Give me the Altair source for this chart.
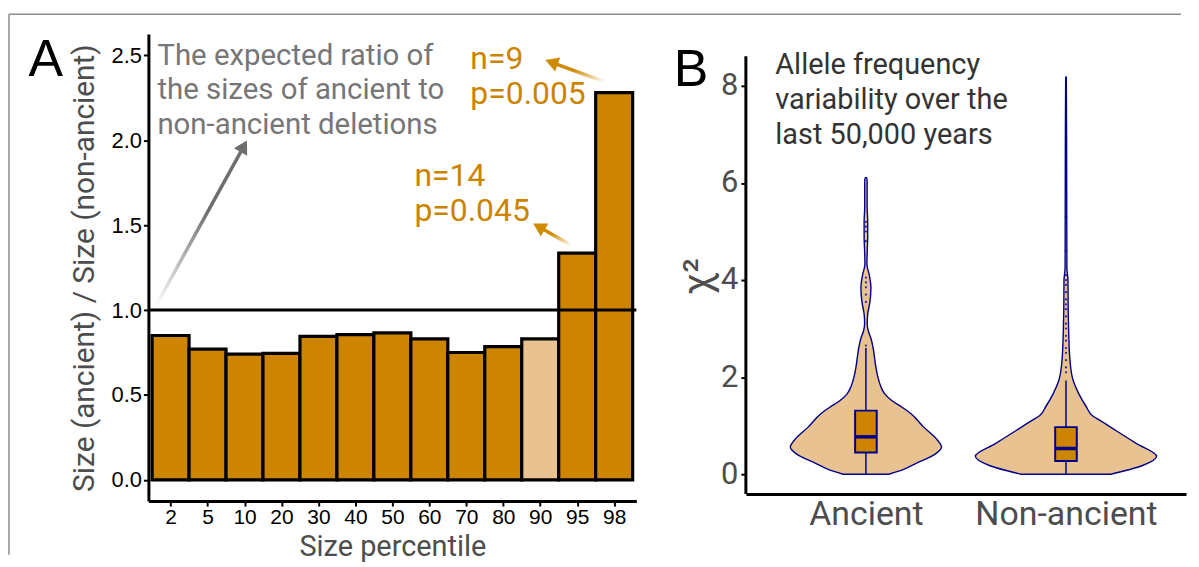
import altair as alt
import pandas as pd

# ---------------- Panel A data ----------------
percentiles = ["2", "5", "10", "20", "30", "40", "50", "60", "70", "80", "90", "95", "98"]
ratios = [0.85, 0.77, 0.74, 0.745, 0.845, 0.855, 0.865, 0.83, 0.75, 0.785, 0.83, 1.335, 2.28]
bar_shade = ["dark"] * 10 + ["light"] + ["dark"] * 2
expected_ratio = 1.0
yticks_a = [0.0, 0.5, 1.0, 1.5, 2.0, 2.5]

# ---------------- Panel B data ----------------
groups = ["Ancient", "Non-ancient"]
anc_y = [0.0, 0.1, 0.22, 0.42, 0.56, 0.7, 0.97, 1.25, 1.37, 1.52, 1.65, 1.8, 2.0, 2.2, 2.6,
         2.8, 2.95, 3.1, 3.3, 3.55, 3.84, 4.1, 4.33, 4.6, 4.9, 5.2, 5.5, 5.8, 6.05, 6.11]
anc_w = [0.114, 0.189, 0.249, 0.348, 0.378, 0.358, 0.289, 0.224, 0.184, 0.129, 0.095, 0.075,
         0.060, 0.050, 0.036, 0.025, 0.012, 0.0065, 0.009, 0.020, 0.025, 0.017, 0.005, 0.0065,
         0.009, 0.009, 0.006, 0.006, 0.006, 0.0025]
non_y = [0.0, 0.18, 0.37, 0.63, 0.9, 1.1, 1.2, 1.4, 1.65, 1.93, 2.34, 3.0, 3.4, 4.0, 4.25,
         5.0, 6.0, 7.0, 8.18]
non_w = [0.224, 0.383, 0.453, 0.353, 0.249, 0.174, 0.134, 0.100, 0.065, 0.036, 0.020, 0.013,
         0.011, 0.010, 0.0045, 0.004, 0.0035, 0.003, 0.0015]
box_q1 = [0.445, 0.27]
box_med = [0.77, 0.53]
box_q3 = [1.31, 0.97]
whisk_lo = [0.0, 0.0]
whisk_hi = [2.6, 1.93]
anc_out = [2.65, 3.55, 3.7, 3.85, 3.95, 4.05, 4.8, 5.0, 5.1, 5.2]
non_out = [2.1, 2.2, 2.35, 2.5, 2.6, 2.75, 2.85, 3.0, 3.1, 3.25, 3.4, 3.5, 3.6, 3.75, 3.9,
           4.0, 4.1, 4.6, 5.3, 5.9]
yticks_b = [0, 2, 4, 6, 8]

# ---------------- styling ----------------
DARK = "#CD8500"
LIGHT = "#E8C391"
NAVY = "#00008B"
ORANGE_TXT = "#CC8400"
GRAY_TXT = "#767676"
FONT = "Roboto"

WA, HA = 490, 469
WB, HB = 442, 462
xdomA = [-0.6, 12.6]
ydomA = [-0.125, 2.625]
xdomB = [0.4, 2.6]
ydomB = [-0.41, 9.067]
pxA = WA / (xdomA[1] - xdomA[0])
pyA = HA / (ydomA[1] - ydomA[0])

xsA = alt.Scale(domain=xdomA, nice=False, zero=False)
ysA = alt.Scale(domain=ydomA, nice=False, zero=False)
xsB = alt.Scale(domain=xdomB, nice=False, zero=False)
ysB = alt.Scale(domain=ydomB, nice=False, zero=False)

# ---------------- Panel A ----------------
bars = pd.DataFrame({
    "idx": list(range(len(percentiles))),
    "pct": percentiles,
    "ratio": ratios,
    "shade": bar_shade,
})
bars["x0"] = bars["idx"] - 0.5
bars["x1"] = bars["idx"] + 0.5
bars["y0"] = 0.0

label_expr_a = "[" + ",".join("'" + p + "'" for p in percentiles) + "][datum.value]"

axA_x = alt.Axis(
    values=list(range(len(percentiles))), labelExpr=label_expr_a,
    title="Size percentile", titleFont=FONT, titleFontSize=29, titleColor="#4d4d4d",
    titleFontWeight="normal", titleY=46, titleBaseline="middle",
    labelFont="Liberation Sans", labelFontSize=21, labelColor="black", labelPadding=1,
    labelOverlap=False, labelLimit=0,
    domainColor="black", domainWidth=3, tickColor="black", tickWidth=2, tickSize=5,
    grid=False)
axA_y = alt.Axis(
    values=yticks_a, format=".1f",
    title="Size (ancient) / Size (non-ancient)", titleFont=FONT, titleFontSize=30,
    titleColor="#4d4d4d", titleFontWeight="normal", titleX=-64, titleY=HA / 2,
    titleAngle=-90, titleBaseline="middle", titleAlign="center",
    labelFont="Liberation Sans", labelFontSize=22, labelColor="black", labelPadding=2,
    labelOverlap=False,
    domainColor="black", domainWidth=3, tickColor="black", tickWidth=2, tickSize=5,
    grid=False)

bar_layer = alt.Chart(bars).mark_rect(stroke="black", strokeWidth=3.2).encode(
    x=alt.X("x0:Q", scale=xsA, axis=axA_x),
    x2="x1:Q",
    y=alt.Y("y0:Q", scale=ysA, axis=axA_y),
    y2="ratio:Q",
    fill=alt.Fill("shade:N", scale=alt.Scale(domain=["dark", "light"], range=[DARK, LIGHT]),
                  legend=None),
)

hline = alt.Chart(pd.DataFrame({"y": [expected_ratio]})).mark_rule(
    color="black", strokeWidth=3).encode(
    x=alt.datum(xdomA[0], scale=xsA, axis=axA_x), x2=alt.datum(xdomA[1]),
    y=alt.Y("y:Q", scale=ysA, axis=axA_y))

# arrows (annotation): tail -> tip in data coordinates of panel A
arrows = pd.DataFrame({
    "name": ["gray", "o1", "o2"],
    "xt": [-0.41, 11.745, 10.83], "yt": [1.02, 2.344, 1.382],
    "xh": [2.07, 10.128, 9.80], "yh": [2.0, 2.473, 1.511],
    "ang": [29, 290, 300],
    "col": ["#6e6e6e", "#D08A00", "#D08A00"],
})


def arrow(row, grad_dir):
    dxp = (row.xt - row.xh) * pxA
    dyp = (row.yt - row.yh) * pyA
    L = (dxp ** 2 + dyp ** 2) ** 0.5
    f = 7.0 / L
    hx = row.xh + (row.xt - row.xh) * f
    hy = row.yh + (row.yt - row.yh) * f
    d = pd.DataFrame({"xt": [row.xt], "yt": [row.yt], "xh": [hx], "yh": [hy]})
    x1, y1, x2, y2 = grad_dir
    grad = alt.LinearGradient(
        gradient="linear",
        stops=[alt.GradientStop(color="#ffffff", offset=0),
               alt.GradientStop(color=row.col, offset=0.6),
               alt.GradientStop(color=row.col, offset=1)],
        x1=x1, y1=y1, x2=x2, y2=y2)
    line = alt.Chart(d).mark_rule(stroke=grad, strokeWidth=3.5).encode(
        x=alt.X("xt:Q", scale=xsA, axis=axA_x), y=alt.Y("yt:Q", scale=ysA, axis=axA_y),
        x2="xh:Q", y2="yh:Q")
    head = alt.Chart(d).mark_point(shape="triangle-up", filled=True, size=230,
                                   angle=int(row.ang), color=row.col, opacity=1).encode(
        x=alt.X("xh:Q", scale=xsA, axis=axA_x), y=alt.Y("yh:Q", scale=ysA, axis=axA_y))
    return line + head


arr_gray = arrow(arrows.iloc[0], (0, 1, 1, 0))
arr_o1 = arrow(arrows.iloc[1], (1, 1, 0, 0))
arr_o2 = arrow(arrows.iloc[2], (1, 1, 0, 0))

txtA = pd.DataFrame({"x": [-0.357, 8.11, 6.597], "y": [2.58, 2.567, 1.874]})
txt_gray = alt.Chart(txtA.iloc[[0]]).mark_text(
    text=["The expected ratio of", "the sizes of ancient to", "non-ancient deletions"],
    align="left", baseline="top", font=FONT, fontSize=29.5, lineHeight=35, color=GRAY_TXT).encode(
    x=alt.X("x:Q", scale=xsA, axis=axA_x), y=alt.Y("y:Q", scale=ysA, axis=axA_y))
txt_n9 = alt.Chart(txtA.iloc[[1]]).mark_text(
    text=["n=9", "p=0.005"], align="left", baseline="top", font=FONT, fontSize=32,
    lineHeight=35, color=ORANGE_TXT).encode(
    x=alt.X("x:Q", scale=xsA, axis=axA_x), y=alt.Y("y:Q", scale=ysA, axis=axA_y))
txt_n14 = alt.Chart(txtA.iloc[[2]]).mark_text(
    text=["n=14", "p=0.045"], align="left", baseline="top", font=FONT, fontSize=32,
    lineHeight=35, color=ORANGE_TXT).encode(
    x=alt.X("x:Q", scale=xsA, axis=axA_x), y=alt.Y("y:Q", scale=ysA, axis=axA_y))

one = pd.DataFrame({"a": [0]})
letterA = alt.Chart(one).mark_text(text="A", font="Liberation Sans", fontSize=52,
                                   align="center", baseline="alphabetic", color="black").encode(
    x=alt.value(-103), y=alt.value(42))
frame_top = alt.Chart(one).mark_rule(color="#8c8c8c", strokeWidth=1.5).encode(
    x=alt.value(-140), x2=alt.value(1037), y=alt.value(-20), y2=alt.value(-20))
frame_left = alt.Chart(one).mark_rule(color="#8c8c8c", strokeWidth=1.5).encode(
    x=alt.value(-140), x2=alt.value(-140), y=alt.value(-20), y2=alt.value(523))

panelA = alt.layer(
    bar_layer, hline, arr_gray, arr_o1, arr_o2, txt_gray, txt_n9, txt_n14,
    letterA, frame_top, frame_left
).properties(width=WA, height=HA)

# ---------------- Panel B ----------------
rows = []
for gi, (ys, ws) in enumerate([(anc_y, anc_w), (non_y, non_w)]):
    c = gi + 1
    for y, w in zip(ys, ws):
        rows.append({"group": groups[gi], "y": y, "left": c - w, "right": c + w})
viol = pd.DataFrame(rows)

box = pd.DataFrame({
    "group": groups, "c": [1, 2], "q1": box_q1, "med": box_med, "q3": box_q3,
    "lo": whisk_lo, "hi": whisk_hi,
})
box["bl"] = box["c"] - 0.054
box["br"] = box["c"] + 0.054

outl = pd.DataFrame({
    "c": [1] * len(anc_out) + [2] * len(non_out),
    "v": anc_out + non_out,
})

label_expr_b = "[''," + ",".join("'" + g + "'" for g in groups) + "][datum.value]"

axB_y = alt.Axis(
    values=yticks_b, title="χ²", titleFont=FONT, titleFontSize=40, titleColor="#4d4d4d",
    titleFontWeight="normal", titleX=-48, titleY=243, titleAngle=-90,
    titleBaseline="middle", titleAlign="center",
    labelFont=FONT, labelFontSize=31, labelColor="#4d4d4d", labelPadding=3,
    domain=False, tickColor="black", tickWidth=2, tickSize=5, grid=False)
axB_x = alt.Axis(
    values=[1, 2], labelExpr=label_expr_b, title="",
    labelFont=FONT, labelFontSize=34, labelColor="#4d4d4d", labelPadding=4,
    labelLimit=0, labelOverlap=False,
    domainColor="black", domainWidth=3, ticks=False, grid=False)

violin = alt.Chart(viol).mark_area(
    orient="horizontal", interpolate="monotone", fill=LIGHT, stroke=NAVY, strokeWidth=1.4,
    opacity=1).encode(
    y=alt.Y("y:Q", scale=ysB, axis=axB_y),
    x=alt.X("left:Q", scale=xsB, axis=axB_x),
    x2="right:Q",
    detail="group:N",
)

whisk = alt.Chart(box).mark_rule(color=NAVY, strokeWidth=1.5).encode(
    x=alt.X("c:Q", scale=xsB, axis=axB_x), y=alt.Y("lo:Q", scale=ysB, axis=axB_y), y2="hi:Q")
boxes = alt.Chart(box).mark_rect(fill=DARK, stroke=NAVY, strokeWidth=2).encode(
    x=alt.X("bl:Q", scale=xsB, axis=axB_x), x2="br:Q",
    y=alt.Y("q1:Q", scale=ysB, axis=axB_y), y2="q3:Q")
meds = alt.Chart(box).mark_rule(color=NAVY, strokeWidth=3.5).encode(
    x=alt.X("bl:Q", scale=xsB, axis=axB_x), x2="br:Q",
    y=alt.Y("med:Q", scale=ysB, axis=axB_y))
outs = alt.Chart(outl).mark_circle(size=5, color=NAVY, opacity=0.8).encode(
    x=alt.X("c:Q", scale=xsB, axis=axB_x), y=alt.Y("v:Q", scale=ysB, axis=axB_y))

ydomain_line = alt.Chart(one).mark_rule(color="black", strokeWidth=3).encode(
    x=alt.datum(xdomB[0], scale=xsB, axis=axB_x), y=alt.datum(-0.41, scale=ysB, axis=axB_y),
    y2=alt.datum(8.61))

txtB = pd.DataFrame({"x": [0.547], "y": [8.72]})
txt_b = alt.Chart(txtB).mark_text(
    text=["Allele frequency", "variability over the", "last 50,000 years"],
    align="left", baseline="top", font=FONT, fontSize=29, lineHeight=35, color="#333333").encode(
    x=alt.X("x:Q", scale=xsB, axis=axB_x), y=alt.Y("y:Q", scale=ysB, axis=axB_y))

letterB = alt.Chart(one).mark_text(text="B", font="Liberation Sans", fontSize=52,
                                   align="center", baseline="alphabetic", color="black").encode(
    x=alt.value(-55), y=alt.value(52))

panelB = alt.layer(
    violin, whisk, boxes, meds, outs, ydomain_line, txt_b, letterB
).properties(width=WB, height=HB)

chart = alt.hconcat(panelA, panelB, spacing=110, bounds="flush").properties(
    padding={"left": 0, "top": 4, "right": 5, "bottom": 0}
).configure_view(stroke=None).configure_axis(grid=False)

chart.save("out.html", embed_options={"renderer": "svg", "actions": False})
